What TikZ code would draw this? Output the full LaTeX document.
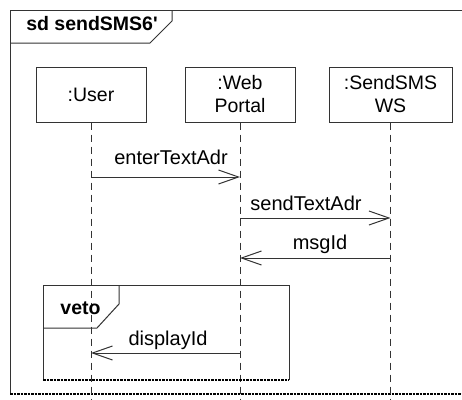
\documentclass[tikz,border=0pt]{standalone}
\usepackage{fontspec}
\setmainfont{Liberation Sans}
\usetikzlibrary{arrows.meta}

\tikzset{
    lifebox/.style={draw=black!80, line width=1pt, minimum height=55pt, align=center,
        font=\fontsize{19.5}{23}\selectfont, inner sep=0pt},
    lifeline/.style={draw=black!80, line width=1pt, dash pattern=on 7pt off 5pt},
    msg/.style={draw=black!80, line width=1pt, -{Straight Barb[length=20pt,width=14pt,line width=1pt]}},
    msglabel/.style={font=\fontsize{20}{22}\selectfont, inner sep=0pt},
    framelabel/.style={font=\bfseries\fontsize{19.5}{22}\selectfont, inner sep=0pt},
    frameline/.style={draw=black!80, line width=1pt},
    framefoot/.style={draw=black, line width=1.6pt, dash pattern=on 2.5pt off 1pt}
}

\begin{document}
\begin{tikzpicture}[x=1pt, y=-1pt]
    \useasboundingbox (0,0) rectangle (462,399);
    % outer frame
    \coordinate (FrameTR) at (462,10);
    \coordinate (FrameTL) at (10,10);
    \coordinate (FrameBL) at (10,394);
    \coordinate (FrameBR) at (462,394);
    \draw [frameline] (FrameTR) -- (FrameTL) -- (FrameBL);
    \draw [framefoot] (FrameBL) -- (FrameBR);% Draw bottom edge
    \draw [frameline] (10,43) -- (150,43) -- (172,21) -- (172,10);
    \node [framelabel] (title) at (92,24) {sd sendSMS6\textquotesingle};

    % lifelines
    \node [lifebox, minimum width=110pt] (user) at (91,94.5) {:User};
    \node [lifebox, minimum width=110pt] (portal) at (240,94.5) {:Web\\Portal};
    \node [lifebox, minimum width=123pt] (sms) at (390.5,94.5) {:SendSMS\\WS};
    \coordinate (UserEnd)   at (91,399);
    \coordinate (PortalEnd) at (240,399);
    \coordinate (SmsEnd)    at (390.5,399);
    \draw [lifeline] (user.south) -- (UserEnd);
    \draw [lifeline] (portal.south) -- (PortalEnd);
    \draw [lifeline] (sms.south) -- (SmsEnd);

    % messages
    \coordinate (EnterFrom) at (91,177);
    \coordinate (EnterTo)   at (240,177);
    \coordinate (SendFrom)  at (240,218);
    \coordinate (SendTo)    at (390.5,218);
    \coordinate (MsgFrom)   at (390.5,258);
    \coordinate (MsgTo)     at (240,258);
    \coordinate (DispFrom)  at (240,353);
    \coordinate (DispTo)    at (91,353);
    \draw [msg] (EnterFrom) -- (EnterTo);
    \node [msglabel] (enter) at (171,157) {enterTextAdr};
    \draw [msg] (SendFrom) -- (SendTo);
    \node [msglabel] (send) at (306,203) {sendTextAdr};
    \draw [msg] (MsgFrom) -- (MsgTo);
    \node [msglabel] (msgid) at (320,244) {msgId};

    % veto fragment
    \coordinate (VetoBL) at (43,380);
    \coordinate (VetoBR) at (289,380);
    \draw [frameline] (VetoBL) -- (43,285) -- (289,285) -- (VetoBR);
    \draw [framefoot] (VetoBL) -- (VetoBR);
    \draw [frameline] (43,328) -- (97,328) -- (119,304) -- (119,285);
    \node [framelabel] (veto) at (80.5,308) {veto};
    \draw [msg] (DispFrom) -- (DispTo);
    \node [msglabel] (disp) at (168,340) {displayId};
\end{tikzpicture}
\end{document}
